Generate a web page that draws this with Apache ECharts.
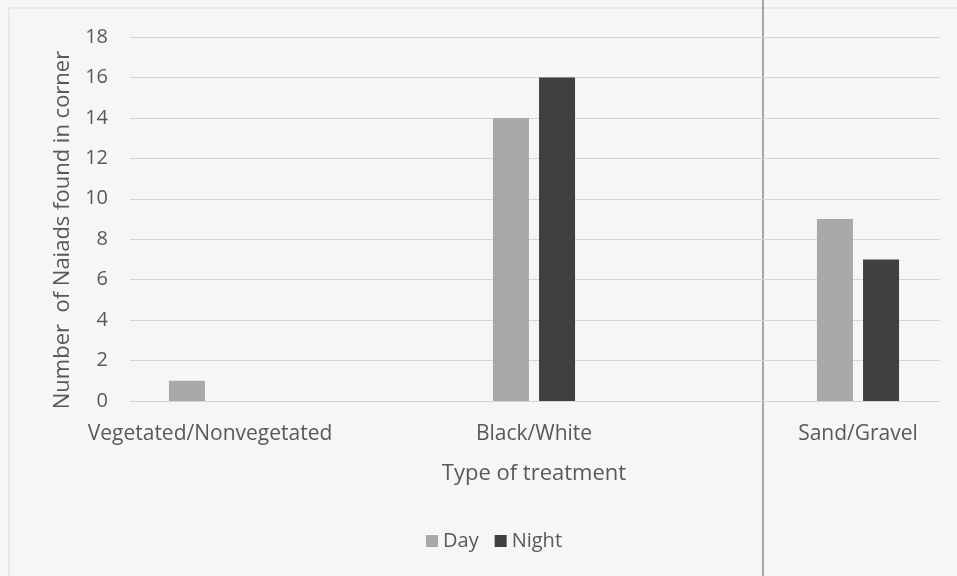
<!DOCTYPE html>
<html lang="en">
<head>
	<meta charset="UTF-8">
	<title>Naiads by treatment</title>
	<script src="https://cdn.jsdelivr.net/npm/echarts@6/dist/echarts.min.js" type="text/javascript"></script>
	<style>
		html,body{margin:0;padding:0;background:#f6f6f4;overflow:hidden;}
		/* the original chart was cropped on the right, so the canvas is wider than the window */
		#chart{width:1020px;height:576px;}
	</style>
</head>
<body>
<div id="chart"></div>
<script>
	// data
	var categories = ['Vegetated/Nonvegetated', 'Black/White', 'Sand/Gravel'];
	var dayValues = [1, 14, 9];
	var nightValues = [0, 16, 7];
	var seriesNames = ['Day', 'Night'];
	var colorAll = ['#a9a9a9', '#404040'];

	var font = '"Open Sans", "Noto Sans", sans-serif';
	var myChart = echarts.init(document.getElementById('chart'));
	var option = {
		backgroundColor: '#f6f6f4',
		color: colorAll,
		textStyle: {fontFamily: font},
		legend: {
			data: seriesNames,
			bottom: 20,
			left: 421,
			itemWidth: 12,
			itemHeight: 12,
			itemGap: 16,
			icon: 'rect',
			textStyle: {fontSize: 20, color: '#595959', fontFamily: font}
		},
		grid: [
			// gridlines + y labels
			{left: 130, right: 80, top: 37, bottom: 175},
			// bars + category labels
			{left: 48, right: 0, top: 37, bottom: 175}
		],
		xAxis: [
			{gridIndex: 0, type: 'category', data: categories, show: false},
			{
				gridIndex: 1,
				type: 'category',
				data: categories,
				axisLine: {show: false},
				axisTick: {show: false},
				axisLabel: {fontSize: 21, color: '#595959', margin: 23},
				name: 'Type of treatment',
				nameLocation: 'middle',
				nameGap: 62,
				nameTextStyle: {fontSize: 22, color: '#595959'}
			}
		],
		yAxis: [
			{
				gridIndex: 0,
				type: 'value',
				min: 0, max: 18, interval: 2,
				axisLine: {show: false},
				axisTick: {show: false},
				axisLabel: {fontSize: 20, color: '#595959', margin: 22},
				splitLine: {lineStyle: {color: '#d4d4d4', width: 1}},
				name: 'Number  of Naiads found in corner',
				nameLocation: 'middle',
				nameGap: 56,
				nameTextStyle: {fontSize: 22, color: '#595959', padding: [0, 22, 0, 0]}
			},
			{
				gridIndex: 1,
				type: 'value',
				min: 0, max: 18, interval: 2,
				show: false
			}
		],
		series: [
			{
				name: seriesNames[0],
				type: 'bar',
				xAxisIndex: 1, yAxisIndex: 1,
				data: dayValues,
				barWidth: 36,
				barGap: '28%'
			},
			{
				name: seriesNames[1],
				type: 'bar',
				xAxisIndex: 1, yAxisIndex: 1,
				data: nightValues,
				barWidth: 36,
				barGap: '28%'
			}
		],
		graphic: [
			{type: 'rect', shape: {x: 9, y: 8, width: 1000, height: 580}, style: {fill: 'none', stroke: '#dcdcdc', lineWidth: 1}, silent: true},
			{type: 'line', shape: {x1: 763, y1: 0, x2: 763, y2: 576}, style: {stroke: '#555555', lineWidth: 1}, silent: true}
		]
	};
	myChart.setOption(option);
</script>
</body>
</html>
